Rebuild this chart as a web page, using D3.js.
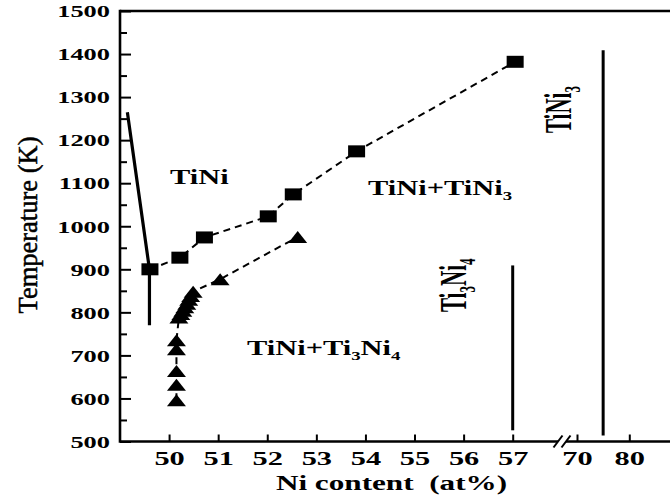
<!DOCTYPE html>
<html>
<head>
<meta charset="utf-8">
<script src="https://cdn.jsdelivr.net/npm/d3@7"></script>
<style>
  html, body { margin: 0; padding: 0; background: #fff; }
  svg { display: block; font-family: "Liberation Serif", "Times New Roman", serif; }
</style>
</head>
<body>
<svg id="chart" width="670" height="497"></svg>
<script>
// Transformation temperatures versus Ni content, TiNi phase diagram region
const squareNi = [49.61, 50.22, 50.72, 52.02, 52.53, 53.82, 57.05];
const squareT  = [900, 927, 974, 1023, 1074, 1174, 1382];

const triangleNi = [50.15, 50.15, 50.15, 50.15, 50.15, 50.20, 50.24, 50.28, 50.32, 50.36, 50.40, 50.44, 50.49, 51.04, 52.62];
const triangleT  = [596, 632, 664, 714, 735, 788, 796, 804, 812, 820, 829, 838, 848, 877, 975];

// solid boundary of the TiNi field
const boundaryNi = [49.15, 49.60, 49.60];
const boundaryT  = [1265, 900, 770];

// stoichiometric compounds: Ti3Ni4 (57 at%) and TiNi3 (75 at%)
const phaseNi   = [57, 75];
const phaseTlow = [526, 514];
const phaseThigh = [909, 1409];

const yMajorTicks = [500, 600, 700, 800, 900, 1000, 1100, 1200, 1300, 1400, 1500];
const yMinorTicks = [550, 650, 750, 850, 950, 1050, 1150, 1250, 1350, 1450];
const xTicksLeft  = [50, 51, 52, 53, 54, 55, 56, 57];
const xTicksRight = [70, 80];

const svg = d3.select("#chart");

const y  = d3.scaleLinear().domain([500, 1500]).range([441.5, 11]);
const xL = d3.scaleLinear().domain([49, 57]).range([120, 512.7]);
const xR = d3.scaleLinear().domain([70, 80]).range([577, 629.3]);
const xAt = v => (v <= 60 ? xL(v) : xR(v));

const x0 = xL.range()[0];
const yBottom = y(500), yTop = y(1500);
const breakL = 558, breakR = 566;

// ---- data lines ----
const lineSq = d3.line().x((d, i) => xAt(squareNi[i])).y((d, i) => y(squareT[i]));
svg.append("path")
  .attr("d", lineSq(squareNi))
  .attr("fill", "none").attr("stroke", "#000")
  .attr("stroke-width", 2).attr("stroke-dasharray", "7,5");

const lineTri = d3.line().x((d, i) => xAt(triangleNi[i])).y((d, i) => y(triangleT[i]));
svg.append("path")
  .attr("d", lineTri(triangleNi))
  .attr("fill", "none").attr("stroke", "#000")
  .attr("stroke-width", 2).attr("stroke-dasharray", "7,5");

const lineB = d3.line().x((d, i) => xAt(boundaryNi[i])).y((d, i) => y(boundaryT[i]));
svg.append("path")
  .attr("d", lineB(boundaryNi))
  .attr("fill", "none").attr("stroke", "#000")
  .attr("stroke-width", 3.2).attr("stroke-linejoin", "round");

svg.selectAll("line.phase")
  .data(phaseNi)
  .join("line")
  .attr("class", "phase")
  .attr("x1", d => xAt(d)).attr("x2", d => xAt(d))
  .attr("y1", (d, i) => y(phaseTlow[i])).attr("y2", (d, i) => y(phaseThigh[i]))
  .attr("stroke", "#000").attr("stroke-width", 3);

// ---- markers ----
const sqW = 17, sqH = 12;
svg.selectAll("rect.sq")
  .data(squareNi)
  .join("rect")
  .attr("class", "sq")
  .attr("x", d => xAt(d) - sqW / 2)
  .attr("y", (d, i) => y(squareT[i]) - sqH / 2)
  .attr("width", sqW).attr("height", sqH)
  .attr("fill", "#000");

const triW = 19, triH = 12;
svg.selectAll("path.tri")
  .data(triangleNi)
  .join("path")
  .attr("class", "tri")
  .attr("d", `M0,${-triH / 2}L${triW / 2},${triH / 2}L${-triW / 2},${triH / 2}Z`)
  .attr("transform", (d, i) => `translate(${xAt(d)},${y(triangleT[i])})`)
  .attr("fill", "#000");

// ---- axes ----
const yAxis = svg.append("g")
  .attr("transform", `translate(${x0},0)`)
  .call(d3.axisLeft(y).tickValues(yMajorTicks).tickSizeInner(-11).tickSizeOuter(0).tickFormat(d3.format("d")));
yAxis.select(".domain").remove();
yAxis.selectAll(".tick line").attr("stroke-width", 2);
yAxis.selectAll(".tick text")
  .attr("x", 0).attr("dy", "0.35em")
  .attr("text-anchor", "end")
  .attr("transform", "translate(-10,0) scale(1.6,1)")
  .attr("font-family", "Liberation Serif, serif")
  .attr("font-size", 16.5).attr("font-weight", "bold").attr("fill", "#000");

const yMinor = svg.append("g")
  .attr("transform", `translate(${x0},0)`)
  .call(d3.axisLeft(y).tickValues(yMinorTicks).tickSizeInner(-7).tickSizeOuter(0).tickFormat(""));
yMinor.select(".domain").remove();
yMinor.selectAll(".tick line").attr("stroke-width", 2);
yMinor.selectAll(".tick text").remove();

function styleX(g) {
  g.select(".domain").remove();
  g.selectAll(".tick line").attr("stroke-width", 2);
  g.selectAll(".tick text")
    .attr("y", 0).attr("dy", 0)
    .attr("transform", "translate(0,23.5) scale(1.6,1)")
    .attr("font-family", "Liberation Serif, serif")
    .attr("font-size", 19).attr("font-weight", "bold").attr("fill", "#000");
}
svg.append("g")
  .attr("transform", `translate(0,${yBottom})`)
  .call(d3.axisBottom(xL).tickValues(xTicksLeft).tickSizeInner(-7).tickSizeOuter(0).tickFormat(d3.format("d")))
  .call(styleX);
svg.append("g")
  .attr("transform", `translate(0,${yBottom})`)
  .call(d3.axisBottom(xR).tickValues(xTicksRight).tickSizeInner(-7).tickSizeOuter(0).tickFormat(d3.format("d")))
  .call(styleX);

// frame lines
const frame = svg.append("g").attr("stroke", "#000").attr("stroke-width", 2.6).attr("fill", "none");
frame.append("line").attr("x1", x0).attr("x2", x0).attr("y1", yTop - 1.3).attr("y2", yBottom + 1.3);
frame.append("line").attr("x1", x0).attr("x2", 670).attr("y1", yTop).attr("y2", yTop);
frame.append("line").attr("x1", x0).attr("x2", breakL).attr("y1", yBottom).attr("y2", yBottom);
frame.append("line").attr("x1", breakR).attr("x2", 670).attr("y1", yBottom).attr("y2", yBottom);

// axis break marks
const brk = svg.append("g").attr("stroke", "#000").attr("stroke-width", 2);
[breakL, breakR].forEach(bx => {
  brk.append("line")
    .attr("x1", bx - 4.5).attr("y1", yBottom + 6)
    .attr("x2", bx + 4.5).attr("y2", yBottom - 6);
});

// ---- axis titles ----
svg.append("text")
  .attr("transform", "translate(391.5,490) scale(1.56,1)")
  .attr("text-anchor", "middle")
  .attr("font-size", 20).attr("font-weight", "bold")
  .style("white-space", "pre")
  .text("Ni content  (at%)");

svg.append("text")
  .attr("transform", "translate(37,225) rotate(-90)")
  .attr("text-anchor", "middle")
  .attr("font-size", 26.5)
  .attr("stroke", "#000").attr("stroke-width", 0.5)
  .text("Temperature (K)");

// ---- phase field labels ----
// parts: [string, isSubscript]; a subscript drops the baseline, the next
// regular part raises it back
function label(parts, transform) {
  const t = svg.append("text")
    .attr("transform", transform)
    .attr("font-size", 21).attr("font-weight", "bold");
  let lowered = false;
  parts.forEach(([s, sub]) => {
    const ts = t.append("tspan").text(s);
    if (sub) {
      ts.attr("font-size", 13).attr("dy", 5);
      lowered = true;
    } else if (lowered) {
      ts.attr("dy", -5);
      lowered = false;
    }
  });
  return t;
}

label([["TiNi"]], "translate(170,184) scale(1.45,1)");
label([["TiNi+TiNi"], ["3", true]], "translate(368,195) scale(1.45,1)");
label([["TiNi+Ti"], ["3", true], ["Ni"], ["4", true]], "translate(247,355) scale(1.45,1)");
label([["Ti"], ["3", true], ["Ni"], ["4", true]], "translate(466,312) scale(1.85,1) rotate(-90)");
label([["TiNi"], ["3", true]], "translate(571,133) scale(1.85,1) rotate(-90)");
</script>
</body>
</html>
